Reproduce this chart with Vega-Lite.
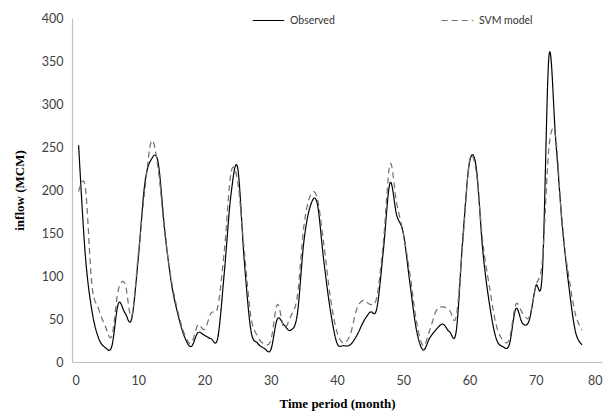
{
  "$schema": "https://vega.github.io/schema/vega-lite/v6.json",
  "autosize": "none",
  "width": 530,
  "height": 344,
  "padding": {"left": 72, "top": 18, "right": 10, "bottom": 55},
  "background": "white",
  "config": {"view": {"stroke": null}},
  "data": {"values": [
    {"month":1,"Observed":252,"SVM model":198},
    {"month":2,"Observed":125,"SVM model":204},
    {"month":3,"Observed":60,"SVM model":90},
    {"month":4,"Observed":28,"SVM model":62},
    {"month":5,"Observed":17,"SVM model":42},
    {"month":6,"Observed":18,"SVM model":30},
    {"month":7,"Observed":68,"SVM model":84},
    {"month":8,"Observed":57,"SVM model":91},
    {"month":9,"Observed":50,"SVM model":53},
    {"month":10,"Observed":120,"SVM model":125},
    {"month":11,"Observed":208,"SVM model":200},
    {"month":12,"Observed":236,"SVM model":257},
    {"month":13,"Observed":232,"SVM model":225},
    {"month":14,"Observed":153,"SVM model":150},
    {"month":15,"Observed":92,"SVM model":95},
    {"month":16,"Observed":55,"SVM model":58},
    {"month":17,"Observed":29,"SVM model":32},
    {"month":18,"Observed":18,"SVM model":22},
    {"month":19,"Observed":34,"SVM model":43},
    {"month":20,"Observed":31,"SVM model":38},
    {"month":21,"Observed":27,"SVM model":57},
    {"month":22,"Observed":28,"SVM model":64},
    {"month":23,"Observed":105,"SVM model":130},
    {"month":24,"Observed":195,"SVM model":220},
    {"month":25,"Observed":226,"SVM model":210},
    {"month":26,"Observed":118,"SVM model":130},
    {"month":27,"Observed":37,"SVM model":53},
    {"month":28,"Observed":22,"SVM model":30},
    {"month":29,"Observed":16,"SVM model":21},
    {"month":30,"Observed":14,"SVM model":25},
    {"month":31,"Observed":50,"SVM model":67},
    {"month":32,"Observed":43,"SVM model":40},
    {"month":33,"Observed":37,"SVM model":53},
    {"month":34,"Observed":55,"SVM model":76},
    {"month":35,"Observed":140,"SVM model":158},
    {"month":36,"Observed":182,"SVM model":194},
    {"month":37,"Observed":185,"SVM model":191},
    {"month":38,"Observed":118,"SVM model":138},
    {"month":39,"Observed":60,"SVM model":75},
    {"month":40,"Observed":22,"SVM model":35},
    {"month":41,"Observed":19,"SVM model":22},
    {"month":42,"Observed":20,"SVM model":32},
    {"month":43,"Observed":31,"SVM model":62},
    {"month":44,"Observed":47,"SVM model":72},
    {"month":45,"Observed":58,"SVM model":67},
    {"month":46,"Observed":62,"SVM model":75},
    {"month":47,"Observed":130,"SVM model":140},
    {"month":48,"Observed":208,"SVM model":230},
    {"month":49,"Observed":171,"SVM model":185},
    {"month":50,"Observed":150,"SVM model":150},
    {"month":51,"Observed":92,"SVM model":103},
    {"month":52,"Observed":37,"SVM model":47},
    {"month":53,"Observed":14,"SVM model":19},
    {"month":54,"Observed":28,"SVM model":37},
    {"month":55,"Observed":38,"SVM model":60},
    {"month":56,"Observed":44,"SVM model":64},
    {"month":57,"Observed":35,"SVM model":60},
    {"month":58,"Observed":36,"SVM model":53},
    {"month":59,"Observed":145,"SVM model":140},
    {"month":60,"Observed":232,"SVM model":234},
    {"month":61,"Observed":227,"SVM model":222},
    {"month":62,"Observed":130,"SVM model":140},
    {"month":63,"Observed":68,"SVM model":88},
    {"month":64,"Observed":28,"SVM model":44},
    {"month":65,"Observed":18,"SVM model":26},
    {"month":66,"Observed":20,"SVM model":26},
    {"month":67,"Observed":62,"SVM model":67},
    {"month":68,"Observed":45,"SVM model":57},
    {"month":69,"Observed":48,"SVM model":52},
    {"month":70,"Observed":88,"SVM model":88},
    {"month":71,"Observed":105,"SVM model":118},
    {"month":72,"Observed":356,"SVM model":250},
    {"month":73,"Observed":260,"SVM model":262},
    {"month":74,"Observed":160,"SVM model":157},
    {"month":75,"Observed":88,"SVM model":99},
    {"month":76,"Observed":35,"SVM model":55},
    {"month":77,"Observed":20,"SVM model":37}
  ]},
  "transform": [{"fold": ["Observed", "SVM model"], "as": ["series", "inflow"]}],
  "mark": {"type": "line", "interpolate": "cardinal", "tension": 0, "strokeWidth": 1.2},
  "encoding": {
    "x": {
      "field": "month", "type": "quantitative",
      "scale": {"domain": [0, 80], "nice": false, "zero": false},
      "axis": {
        "values": [0,10,20,30,40,50,60,70,80],
        "grid": false, "ticks": false,
        "domainColor": "#bfbfbf", "domainWidth": 1.2,
        "labelFont": "Lato", "labelFontSize": 12.5, "labelColor": "#404040",
        "labelPadding": 12,
        "title": "Time period (month)",
        "titleFont": "Liberation Serif", "titleFontSize": 13, "titleFontWeight": "bold", "titleColor": "#000000",
        "titlePadding": 11
      }
    },
    "y": {
      "field": "inflow", "type": "quantitative",
      "scale": {"domain": [0, 400], "nice": false},
      "axis": {
        "values": [0,50,100,150,200,250,300,350,400],
        "grid": false, "ticks": false,
        "domainColor": "#bfbfbf", "domainWidth": 1.2,
        "labelFont": "Lato", "labelFontSize": 12.5, "labelColor": "#404040",
        "labelPadding": 9,
        "title": "inflow (MCM)",
        "titleFont": "Liberation Serif", "titleFontSize": 13, "titleFontWeight": "bold", "titleColor": "#000000",
        "titlePadding": 15
      }
    },
    "color": {
      "field": "series", "type": "nominal",
      "scale": {"domain": ["Observed", "SVM model"], "range": ["#000000", "#6e6e6e"]},
      "legend": {
        "title": null, "orient": "none", "direction": "horizontal",
        "legendX": 180, "legendY": -14,
        "symbolType": "stroke", "symbolSize": 1000, "symbolStrokeWidth": 1.2,
        "labelFont": "Lato", "labelFontSize": 10.5, "labelColor": "#333333",
        "labelOffset": 5, "columnPadding": 104
      }
    },
    "strokeDash": {
      "field": "series", "type": "nominal",
      "scale": {"domain": ["Observed", "SVM model"], "range": [[1, 0], [6, 4]]},
      "legend": null
    }
  }
}
